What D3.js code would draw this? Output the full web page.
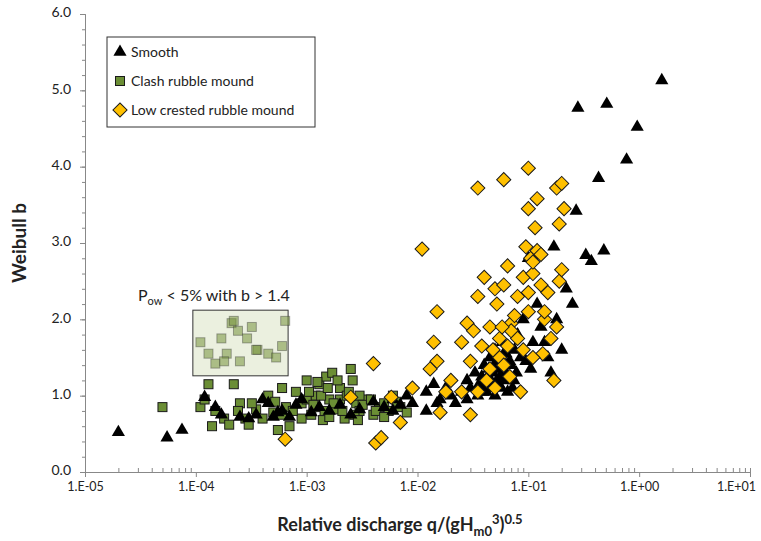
<!DOCTYPE html>
<html><head><meta charset="utf-8">
<script src="https://cdn.jsdelivr.net/npm/d3@7"></script>
<style>body{margin:0;background:#fff}text{font-family:Lato,"Liberation Sans",sans-serif}</style>
</head><body><svg id="c" width="761" height="541"></svg>
<script>
const smooth = [[2e-5,0.52],[5.5e-5,0.45],[7.5e-5,0.55],[1.2e-4,0.98],[1.5e-4,0.85],[1.7e-4,0.75],[2.5e-4,0.72],[3e-4,0.7],[3.5e-4,0.75],[4e-4,0.95],[4.5e-4,0.9],[5e-4,0.72],[5.5e-4,0.78],[6e-4,0.8],[7e-4,0.72],[8e-4,0.88],[9e-4,0.95],[1.1e-3,0.78],[1.3e-3,0.85],[1.6e-3,0.8],[2e-3,0.88],[2.5e-3,0.75],[3e-3,0.82],[4e-3,0.92],[5e-3,0.85],[6e-3,0.95],[7e-3,0.88],[8e-3,1.0],[9e-3,0.9],[6e-3,0.8],[1.2e-2,0.8],
[1.2e-2,1.05],[1.4e-2,1.15],[1.6e-2,0.95],[1.8e-2,1.1],[2e-2,1.0],[2.2e-2,0.9],[2.5e-2,1.05],[2.8e-2,1.2],[3e-2,1.1],[3.3e-2,1.3],[3.5e-2,1.0],[3.8e-2,1.25],[4e-2,1.4],[4.2e-2,1.15],[4.5e-2,1.5],[4.8e-2,1.3],[5e-2,1.6],[5.2e-2,1.2],[5.5e-2,1.45],[5.8e-2,1.7],[6e-2,1.35],[6.3e-2,1.55],[6.6e-2,1.25],[7e-2,1.4],[7.5e-2,1.6],[8e-2,1.8],[8.5e-2,1.5],[9e-2,2.0],[1e-1,2.8],[1.1e-1,1.7],[1.2e-1,2.2],[1.3e-1,1.9],[1.5e-1,1.5],[1.7e-1,2.95],[1.8e-1,2.0],[2e-1,1.6],[2.2e-1,2.4],[2.5e-1,2.2],[2.7e-1,3.42],[1.6e-1,1.3],
[4.2e-2,1.05],[4.6e-2,1.2],[5e-2,1.0],[5.3e-2,1.35],[5.7e-2,1.1],[6.2e-2,1.2],[6.8e-2,1.45],[7.2e-2,1.1],[4.4e-2,1.35],[5.1e-2,1.5],[5.6e-2,1.25],[6e-2,1.55],[6.5e-2,1.05],[3.6e-2,1.15],[7.8e-2,1.3],[9.5e-2,1.45],[1.05e-1,1.35],[1.4e-1,1.7],[2.8e-2,0.95],[1.5e-2,0.9],
[4.7e-2,1.1],[5.4e-2,1.15],[5.9e-2,1.3],[6.4e-2,1.4],[4.3e-2,1.25],[4.9e-2,1.4],[3.9e-2,1.05],[7.4e-2,1.2],
[0.33,2.84],[0.37,2.76],[0.48,2.9],[0.28,4.77],[0.43,3.85],[0.51,4.82],[0.77,4.09],[0.96,4.52],[1.6,5.13]];
const clash = [[5e-5,0.85],[1.1e-4,0.85],[1.3e-4,1.15],[1.4e-4,0.6],[1.5e-4,0.8],[1.8e-4,0.7],[2e-4,0.62],[2.2e-4,1.15],[2.5e-4,0.9],[2.8e-4,0.7],[3e-4,0.62],[3.5e-4,0.82],[4e-4,0.7],[4.5e-4,1.0],[5e-4,0.78],[5.5e-4,0.55],[6e-4,1.1],[6.5e-4,0.85],[7e-4,0.6],[8e-4,1.05],[9e-4,0.9],[1e-3,1.2],[1.1e-3,0.75],[1.2e-3,1.0],[1.3e-3,1.15],[1.4e-3,0.68],[1.5e-3,1.25],[1.6e-3,0.95],[1.7e-3,1.3],[1.8e-3,0.82],[2e-3,1.1],[2.2e-3,0.7],[2.5e-3,1.35],[2.6e-3,1.2],[2.8e-3,0.9],[3e-3,0.8],[3.5e-3,0.95],[4e-3,0.75],[4.5e-3,0.85],[5e-3,0.9],[5.5e-3,0.8],[6e-3,1.0],[7e-3,0.85],[8e-3,0.78],[1.2e-3,0.85],[9e-4,0.7],[6e-4,0.75],[2e-3,0.95],[3e-3,1.0],[1e-3,0.95],
[1.2e-4,0.95],[2.4e-4,0.8],[3.2e-4,0.9],[5.2e-4,0.92],[7.5e-4,0.8],[1.05e-3,1.05],[1.15e-3,0.88],[1.35e-3,1.0],[1.45e-3,0.8],[1.55e-3,1.1],[1.75e-3,0.9],[1.9e-3,1.2],[2.1e-3,0.8],[2.3e-3,1.0],[2.7e-3,0.75],[3.2e-3,0.88],[3.8e-3,0.95],[4.2e-3,0.8],[5e-3,0.72],[6.5e-3,0.92],[1.6e-3,0.72],[1.25e-3,1.18],[2.4e-3,1.05],[2.9e-3,0.68]];
const clashLow = [[1.1e-4,1.7],[1.3e-4,1.55],[1.5e-4,1.42],[1.7e-4,1.75],[1.9e-4,1.55],[1.8e-4,1.45],[2.1e-4,1.95],[2.4e-4,1.85],[2.5e-4,1.45],[2.9e-4,1.75],[3.2e-4,1.9],[3.6e-4,1.6],[4.5e-4,1.55],[5.3e-4,1.5],[6e-4,1.65],[6.4e-4,1.98],[2.2e-4,1.98],[3.5e-4,1.6]];
const low = [[6.4e-4,0.43],[2.5e-3,0.98],[4e-3,1.42],[4.2e-3,0.38],[4.7e-3,0.45],[5.8e-3,0.98],[7e-3,0.65],[9e-3,1.1],[1.1e-2,2.92],[1.3e-2,1.35],[1.4e-2,1.7],[1.5e-2,2.1],[1.5e-2,1.45],[1.6e-2,0.78],[1.8e-2,1.05],[2e-2,1.2],[2.5e-2,1.7],[2.8e-2,1.95],[3e-2,1.45],[3e-2,0.75],[3.2e-2,1.85],[3.5e-2,3.72],[3.5e-2,2.3],[3.8e-2,1.65],[4e-2,2.55],[4.2e-2,1.2],[4.5e-2,1.9],[5e-2,2.4],[5.2e-2,2.2],[5.5e-2,1.5],[6e-2,3.83],[6e-2,2.45],[6.5e-2,2.7],[7e-2,1.95],[7.5e-2,2.05],[8e-2,2.3],[8.5e-2,1.05],[9e-2,2.55],[9.5e-2,2.95],[1e-1,3.98],[1e-1,3.45],[1.05e-1,2.8],[1.1e-1,2.6],[1.15e-1,3.2],[1.2e-1,3.58],[1.2e-1,2.9],[1.3e-1,2.45],[1.35e-1,1.55],[1.4e-1,2.0],[1.5e-1,2.35],[1.6e-1,1.75],[1.7e-1,1.2],[1.8e-1,3.72],[1.9e-1,3.25],[2e-1,3.78],[2.1e-1,3.45],[1.9e-1,2.5],[6e-2,1.4],[5e-2,1.1],[4.5e-2,1.35],[6.5e-2,1.65],[7e-2,1.85],[8e-2,1.75],[9e-2,1.6],[1e-1,2.1],[1.1e-1,1.5],[1.3e-1,2.85],[1.4e-1,2.1],[2e-1,2.65],[1.8e-1,1.9],[3.5e-2,1.05],[2.5e-2,1.05],[5.5e-2,1.75],[6.8e-2,1.25],[4.8e-2,1.6],[5.8e-2,1.9],[1e-1,2.35],[1.1e-1,2.75]];
const yTicks = [0,1,2,3,4,5,6];
const xTicks = [1e-5,1e-4,1e-3,1e-2,1e-1,1,10];
const xLabels = ["1.E-05","1.E-04","1.E-03","1.E-02","1.E-01","1.E+00","1.E+01"];

const svg = d3.select("#c");
const m = {l:85, r:750, t:14, b:472};
const x = d3.scaleLog().domain([1e-5,10]).range([m.l,m.r]);
const y = d3.scaleLinear().domain([0,6]).range([m.b,m.t]);

// y axis
const ya = svg.append("g").attr("transform",`translate(${m.l},0)`)
  .call(d3.axisLeft(y).tickValues(yTicks).tickFormat(d3.format(".1f")).tickSize(5));
ya.selectAll("text").attr("font-size",14).attr("fill","#222").attr("dx",-6).attr("dy","0.2em");
svg.append("g").attr("transform",`translate(${m.l},0)`)
  .call(d3.axisLeft(y).tickValues(d3.range(0,6.01,0.2)).tickFormat("").tickSize(3));
// x axis
const minor = [];
for (let e=-5;e<1;e++) for (let k=2;k<10;k++) minor.push(k*Math.pow(10,e));
svg.append("g").attr("transform",`translate(0,${m.b})`)
  .call(d3.axisBottom(x).tickValues(minor).tickFormat("").tickSize(-4));
const xa = svg.append("g").attr("transform",`translate(0,${m.b})`)
  .call(d3.axisBottom(x).tickValues(xTicks).tickFormat((d,i)=>xLabels[i]).tickSize(5));
xa.selectAll("text").attr("font-size",12.5).attr("fill","#222").attr("dy",11)
  .attr("dx",(d,i)=>i===xTicks.length-1?-14:0);
svg.selectAll(".domain").attr("stroke","#888");
svg.selectAll(".tick line").attr("stroke","#888");

// Pow annotation box
svg.append("rect").attr("x",x(9.4e-5)).attr("y",y(2.12)).attr("width",x(6.8e-4)-x(9.4e-5)).attr("height",y(1.26)-y(2.12))
  .attr("fill","#ebf0df").attr("stroke","#333");
const t = svg.append("text").attr("x",138).attr("y",301).attr("font-size",16).attr("fill","#222");
t.append("tspan").text("P");
t.append("tspan").attr("font-size",11).attr("dy",4).text("ow");
t.append("tspan").attr("dy",-4).text(" < 5% with b > 1.4");

const sq = 9;
svg.append("g").selectAll("rect").data(clashLow).join("rect")
  .attr("x",d=>x(d[0])-sq/2).attr("y",d=>y(d[1])-sq/2).attr("width",sq).attr("height",sq)
  .attr("fill","#77933c").attr("fill-opacity",0.55).attr("stroke","#333").attr("stroke-opacity",0.4);
svg.append("g").selectAll("rect").data(clash).join("rect")
  .attr("x",d=>x(d[0])-sq/2).attr("y",d=>y(d[1])-sq/2).attr("width",sq).attr("height",sq)
  .attr("fill","#6b8e35").attr("stroke","#1a1a1a");
const tri = d3.symbol().type(d3.symbolTriangle).size(75);
svg.append("g").selectAll("path").data(smooth).join("path")
  .attr("transform",d=>`translate(${x(d[0])},${y(d[1])})`).attr("d",tri).attr("fill","#000");
const dia = d3.symbol().type(d3.symbolSquare).size(100);
svg.append("g").selectAll("path").data(low).join("path")
  .attr("transform",d=>`translate(${x(d[0])},${y(d[1])}) rotate(45)`).attr("d",dia)
  .attr("fill","#ffc000").attr("stroke","#1a1a1a");

// legend
const lg = svg.append("g");
lg.append("rect").attr("x",107).attr("y",37).attr("width",208).attr("height",90).attr("fill","#fff").attr("stroke","#333");
const items = [["Smooth","tri"],["Clash rubble mound","sq"],["Low crested rubble mound","dia"]];
items.forEach((it,i)=>{
  const cy = 52 + i*29, cx = 120;
  if (it[1]==="tri") lg.append("path").attr("transform",`translate(${cx},${cy})`).attr("d",tri).attr("fill","#000");
  else if (it[1]==="sq") lg.append("rect").attr("x",cx-sq/2).attr("y",cy-sq/2).attr("width",sq).attr("height",sq).attr("fill","#6b8e35").attr("stroke","#1a1a1a");
  else lg.append("path").attr("transform",`translate(${cx},${cy}) rotate(45)`).attr("d",dia).attr("fill","#ffc000").attr("stroke","#1a1a1a");
  lg.append("text").attr("x",131).attr("y",cy+5).attr("font-size",14).attr("fill","#222").text(it[0]);
});

// titles
svg.append("text").attr("transform","translate(26,243) rotate(-90)").attr("text-anchor","middle")
  .attr("font-size",19).attr("font-weight","bold").attr("fill","#222").text("Weibull b");
const xt = svg.append("text").attr("x",400).attr("y",531).attr("text-anchor","middle")
  .attr("font-size",18).attr("font-weight","bold").attr("fill","#222");
xt.append("tspan").text("Relative discharge q/(gH");
xt.append("tspan").attr("font-size",13).attr("dy",5).text("m0");
xt.append("tspan").attr("font-size",13).attr("dy",-12).text("3");
xt.append("tspan").attr("dy",7).text(")");
xt.append("tspan").attr("font-size",13).attr("dy",-7).text("0.5");
</script></body></html>
